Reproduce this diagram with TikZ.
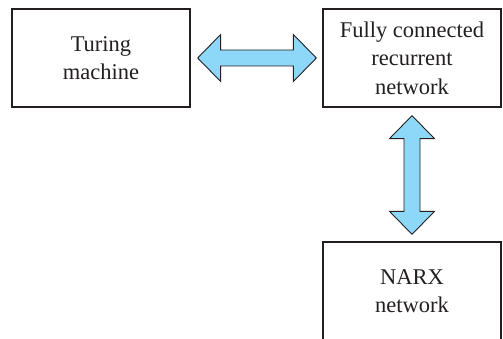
\documentclass[tikz,border=0pt]{standalone}
\usepackage{fontspec}
\setmainfont{Liberation Serif}
\usetikzlibrary{calc}
\definecolor{inkdark}{HTML}{231F20}
\definecolor{arrowblue}{HTML}{8DD8F8}
\begin{document}
\begin{tikzpicture}[x=1pt,y=-1pt,
  box/.style={draw=inkdark, line width=1.3pt, rectangle, inner sep=0pt,
    minimum width=178pt, minimum height=98pt, align=center,
    text=inkdark, font=\fontsize{22.5}{28.5}\selectfont},
  dblarrow/.style={fill=arrowblue, draw=inkdark, line width=0.9pt, line join=miter}]
\useasboundingbox (0,0) rectangle (503,339);
\clip (0,0) rectangle (503,339);
\node[box] (tm) at (101,58) {Turing\\machine};
\node[box] (fc) at (412,58) {Fully connected\\recurrent\\network};
\node[box] (narx) at (412,291) {NARX\\network};
% horizontal double arrow
\path[dblarrow] let \p1=($(tm.east)+(7,0)$), \p2=($(fc.west)+(-6,0)$) in
  (\x1,\y1) -- (\x1+23pt,\y1+23.5pt) -- (\x1+23pt,\y1+8pt) -- (\x2-23pt,\y1+8pt)
  -- (\x2-23pt,\y1+23.5pt) -- (\x2,\y1) -- (\x2-23pt,\y1-23.5pt) -- (\x2-23pt,\y1-8pt)
  -- (\x1+23pt,\y1-8pt) -- (\x1+23pt,\y1-23.5pt) -- cycle;
% vertical double arrow
\path[dblarrow] let \p1=($(fc.south)+(0,8)$), \p2=($(narx.north)+(0,-7)$) in
  (\x1,\y1) -- (\x1-22.5pt,\y1-23pt) -- (\x1-8pt,\y1-23pt) -- (\x1-8pt,\y2+23pt)
  -- (\x1-22.5pt,\y2+23pt) -- (\x1,\y2) -- (\x1+22.5pt,\y2+23pt) -- (\x1+8pt,\y2+23pt)
  -- (\x1+8pt,\y1-23pt) -- (\x1+22.5pt,\y1-23pt) -- cycle;
\end{tikzpicture}
\end{document}
